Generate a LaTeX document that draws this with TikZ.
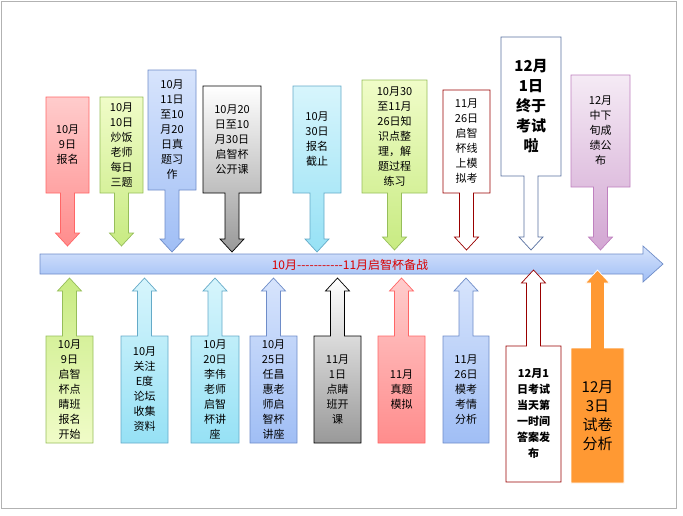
\documentclass[tikz,border=0pt]{standalone}
\usepackage{fontspec}
\setmainfont{Noto Sans CJK SC}
\usetikzlibrary{calc}
\definecolor{skyA}{RGB}{215,228,252}
\definecolor{skyB}{RGB}{160,190,245}
\definecolor{skyD}{RGB}{110,140,200}
\definecolor{cyA}{RGB}{215,245,252}
\definecolor{cyB}{RGB}{150,225,245}
\definecolor{cyD}{RGB}{100,170,200}
\definecolor{grA}{RGB}{240,252,200}
\definecolor{grB}{RGB}{200,235,130}
\definecolor{grD}{RGB}{150,190,90}
\tikzset{
  box/.style={line width=0.7pt},
  lbl/.style={align=center, inner sep=0pt, font=\fontsize{11}{15}\selectfont},
}
% callout pointing down: name, x1, x2, ytop, ybot, tip, fill top, fill bottom, draw
\newcommand{\downcall}[9]{%
  \pgfmathsetmacro{\cx}{(#2+#3)/2}
  \path[box, draw=#9, top color=#7, bottom color=#8]
    (#2,#4) -- (#3,#4) -- (#3,#5) -- (\cx+7,#5) -- (\cx+7,#6-13) -- (\cx+12,#6-13)
    -- (\cx,#6) -- (\cx-12,#6-13) -- (\cx-7,#6-13) -- (\cx-7,#5) -- (#2,#5) -- cycle;
  \coordinate (#1) at ({(#2+#3)/2},{(#4+#5)/2});
}
% callout pointing up
\newcommand{\upcall}[9]{%
  \pgfmathsetmacro{\cx}{(#2+#3)/2}
  \path[box, draw=#9, top color=#7, bottom color=#8]
    (#2,#5) -- (#3,#5) -- (#3,#4) -- (\cx+7,#4) -- (\cx+7,#6+13) -- (\cx+12,#6+13)
    -- (\cx,#6) -- (\cx-12,#6+13) -- (\cx-7,#6+13) -- (\cx-7,#4) -- (#2,#4) -- cycle;
  \coordinate (#1) at ({(#2+#3)/2},{(#4+#5)/2});
}
\begin{document}
\begin{tikzpicture}[x=1pt,y=-1pt]
  \useasboundingbox (0,0) rectangle (683,515);
  \draw[gray!60] (1,1) rectangle (676,508);
  % main timeline
  \path[draw=skyD, line width=0.7pt, top color=skyA, bottom color=skyB]
    (40,254) -- (643,254) -- (643,246) -- (663,264) -- (643,282) -- (643,274) -- (40,274) -- cycle;
  \node[lbl, text=red!85!black, font=\fontsize{12}{14}\selectfont] (line) at (350,265)
    {10月{-}{-}{-}{-}{-}{-}{-}{-}{-}{-}{-}11月启智杯备战};
  % top
  \downcall{t1}{46}{89}{97}{193}{246}{red!20}{red!45}{red!60}
  \downcall{t2}{100}{143}{97}{193}{246}{grA}{grB}{grD}
  \downcall{t3}{148}{196}{70}{190}{252}{skyA}{skyB}{skyD}
  \downcall{t4}{203}{261}{86}{193}{252}{white}{black!40}{black}
  \downcall{t5}{293}{341}{86}{193}{252}{cyA}{cyB}{cyD}
  \downcall{t6}{362}{427}{80}{193}{250}{grA}{grB}{grD}
  \downcall{t7}{443}{490}{90}{193}{250}{white}{white}{red!60!black}
  \downcall{t8}{501}{561}{37}{176}{250}{white}{white}{skyD!80!black}
  \downcall{t9}{571}{630}{75}{187}{250}{violet!8}{violet!35}{violet!50}
  \node[lbl] (n1) at (t1) {10月\\9日\\报名};
  \node[lbl] (n2) at (t2) {10月\\10日\\炒饭\\老师\\每日\\三题};
  \node[lbl] (n3) at (t3) {10月\\11日\\至10\\月20\\日真\\题习\\作};
  \node[lbl] (n4) at (t4) {10月20\\日至10\\月30日\\启智杯\\公开课};
  \node[lbl] (n5) at (t5) {10月\\30日\\报名\\截止};
  \node[lbl] (n6) at (t6) {10月30\\至11月\\26日知\\识点整\\理，解\\题过程\\练习};
  \node[lbl] (n7) at (t7) {11月\\26日\\启智\\杯线\\上模\\拟考};
  \node[lbl, font=\bfseries\fontsize{15}{20}\selectfont] (n8) at (t8) {12月\\1日\\终于\\考试\\啦};
  \node[lbl] (n9) at (t9) {12月\\中下\\旬成\\绩公\\布};
  % bottom
  \upcall{b1}{46}{93}{336}{443}{278}{grB}{grA}{grD}
  \upcall{b2}{121}{168}{336}{443}{278}{cyA}{cyB}{cyD}
  \upcall{b3}{191}{239}{336}{443}{278}{cyA}{cyB}{cyD}
  \upcall{b4}{250}{297}{336}{443}{278}{skyA}{skyB}{skyD}
  \upcall{b5}{314}{361}{336}{443}{278}{white}{black!40}{black}
  \upcall{b6}{378}{425}{336}{443}{278}{red!20}{red!45}{red!60}
  \upcall{b7}{443}{489}{336}{443}{278}{skyA}{skyB}{skyD}
  \upcall{b8}{506}{561}{346}{482}{270}{white}{white}{red!60!black}
  \upcall{b9}{571}{624}{348}{483}{270}{orange!80}{orange!80}{white}
  \node[lbl] (m1) at (b1) {10月\\9日\\启智\\杯点\\睛班\\报名\\开始};
  \node[lbl] (m2) at (b2) {10月\\关注\\E度\\论坛\\收集\\资料};
  \node[lbl] (m3) at (b3) {10月\\20日\\李伟\\老师\\启智\\杯讲\\座};
  \node[lbl] (m4) at (b4) {10月\\25日\\任昌\\惠老\\师启\\智杯\\讲座};
  \node[lbl] (m5) at (b5) {11月\\1日\\点睛\\班开\\课};
  \node[lbl] (m6) at (b6) {11月\\真题\\模拟};
  \node[lbl] (m7) at (b7) {11月\\26日\\模考\\考情\\分析};
  \node[lbl, font=\bfseries\fontsize{11}{16}\selectfont] (m8) at (b8) {12月1\\日考试\\当天第\\一时间\\答案发\\布};
  \node[lbl, font=\fontsize{15}{19}\selectfont] (m9) at (b9) {12月\\3日\\试卷\\分析};
\end{tikzpicture}
\end{document}
